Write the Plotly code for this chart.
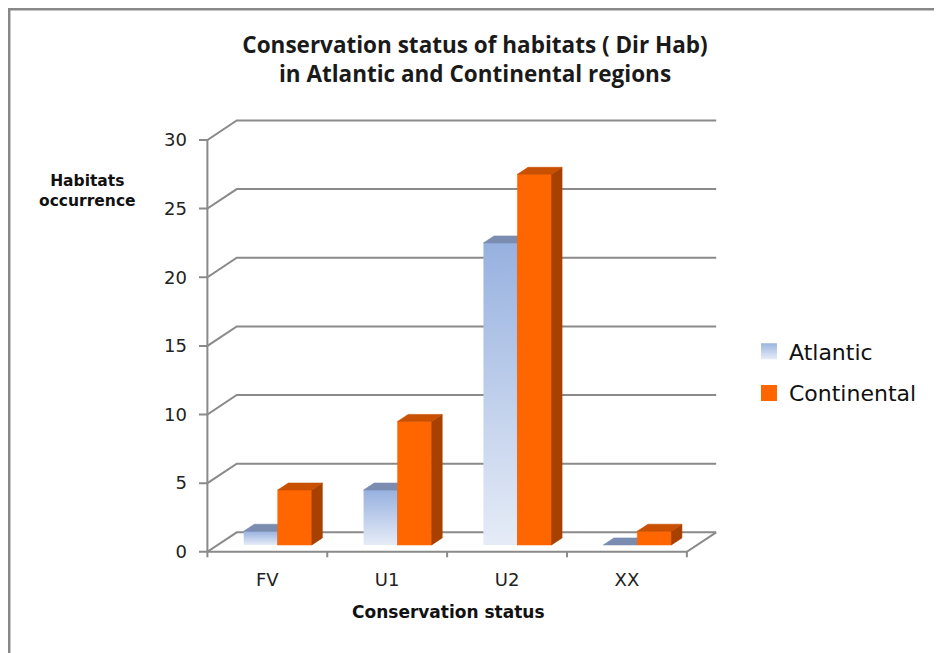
import plotly.graph_objects as go

categories = ["FV", "U1", "U2", "XX"]
atlantic = [1, 4, 22, 0]
continental = [4, 9, 27, 1]
y_ticks = [0, 5, 10, 15, 20, 25, 30]

# --- fake 3D geometry (axis units) ---------------------------------------
WALL_DX, WALL_DY = 0.245, 1.42     # front edge of floor -> back wall
FACE_DX, FACE_DY = 0.086, 0.50     # bar front face sits this far back
DEPTH_DX, DEPTH_DY = 0.088, 0.51   # bar depth
BAR_W = 0.284
GAP = 0.217
N = len(categories)

GRID = "#8a8a8a"
ATL = dict(front=["#e6ecf7", "#97b1df"], top="#7a8db0", side="#6a7fa6")
CON = dict(front="#ff6600", top="#c85000", side="#a84000")

fig = go.Figure()


def poly(xs, ys, **kw):
    fig.add_trace(go.Scatter(
        x=xs + [xs[0]], y=ys + [ys[0]], mode="lines", fill="toself",
        hoverinfo="skip", showlegend=False, **kw))


# walls / floor / axis lines
gx, gy = [], []
for v in y_ticks:
    gx += [-0.07, 0, WALL_DX, N + WALL_DX, None]
    gy += [v, v, v + WALL_DY, v + WALL_DY, None]
gx += [0, N, N + WALL_DX, None, 0, 0, None]
gy += [0, 0, WALL_DY, None, 0, y_ticks[-1], None]
for i in range(N + 1):
    gx += [i, i, None]
    gy += [0, -0.4, None]
fig.add_trace(go.Scatter(x=gx, y=gy, mode="lines", line=dict(color=GRID, width=2),
                         hoverinfo="skip", showlegend=False))

# bars
for i, (a, c) in enumerate(zip(atlantic, continental)):
    for j, (v, col) in enumerate(((a, ATL), (c, CON))):
        x0 = i + GAP + j * BAR_W + FACE_DX
        x1 = x0 + BAR_W
        yb, yt = FACE_DY, v + FACE_DY
        if v > 0:
            if j == 0:
                poly([x0, x1, x1, x0], [yb, yb, yt, yt], line=dict(width=0),
                     fillgradient=dict(type="vertical",
                                       colorscale=[[0, col["front"][0]], [1, col["front"][1]]]))
            else:
                poly([x0, x1, x1, x0], [yb, yb, yt, yt],
                     line=dict(width=0.6, color=col["front"]), fillcolor=col["front"])
            poly([x1, x1 + DEPTH_DX, x1 + DEPTH_DX, x1],
                 [yb, yb + DEPTH_DY, yt + DEPTH_DY, yt],
                 line=dict(width=0.6, color=col["side"]), fillcolor=col["side"])
        poly([x0, x1, x1 + DEPTH_DX, x0 + DEPTH_DX],
             [yt, yt, yt + DEPTH_DY, yt + DEPTH_DY],
             line=dict(width=0.6, color=col["top"]), fillcolor=col["top"])

# legend entries
fig.add_trace(go.Scatter(x=[None], y=[None], mode="markers", name="Atlantic",
                         legendgroup="atl",
                         marker=dict(symbol="square", size=16, color="#9bb4e0",
                                     gradient=dict(type="vertical", color="#e6ecf7"))))
fig.add_trace(go.Scatter(x=[None], y=[None], mode="markers", name="Continental",
                         legendgroup="con",
                         marker=dict(symbol="square", size=16, color="#ff6600")))

# page body has an 8px margin, so the figure is 8px smaller than the window
fig.update_layout(
    width=934, height=645,
    margin=dict(l=191, r=224, t=110, b=95, autoexpand=False),
    paper_bgcolor="white", plot_bgcolor="white",
    title=dict(text="Conservation status of habitats ( Dir Hab)<br>in Atlantic and Continental regions",
               x=0.5, xanchor="center", y=0.930, yanchor="middle",
               font=dict(family="Open Sans", size=22.5, color="#1a1a1a", weight="bold")),
    xaxis=dict(range=[-0.07, N + 0.26], tickvals=[i + 0.5 for i in range(N)],
               ticktext=categories, showgrid=False, zeroline=False, ticks="",
               ticklabelstandoff=9,
               tickfont=dict(family="DejaVu Sans", size=18, color="#222")),
    yaxis=dict(range=[-0.45, 31.6], tickvals=y_ticks, showgrid=False, zeroline=False,
               ticks="", ticklabelstandoff=11,
               tickfont=dict(family="DejaVu Sans", size=18, color="#222")),
    legend=dict(x=1.0597, xanchor="left", y=0.4216, yanchor="middle",
                tracegroupgap=10, font=dict(family="DejaVu Sans", size=22, color="#111"),
                bgcolor="rgba(0,0,0,0)"),
    showlegend=True,
    annotations=[
        dict(text="Conservation status", xref="paper", yref="paper", x=0.48, y=-0.1227,
             xanchor="center", yanchor="middle", showarrow=False,
             font=dict(family="DejaVu Sans", size=17, color="#111", weight="bold")),
        dict(text="Habitats<br>occurrence", xref="paper", yref="paper", x=-0.2139, y=0.833,
             xanchor="center", yanchor="middle", showarrow=False,
             font=dict(family="DejaVu Sans", size=15.5, color="#111", weight="bold")),
    ],
    shapes=[dict(type="rect", xref="paper", yref="paper", x0=-0.3657, x1=1.466,
                 y0=-0.2545, y1=1.2473, line=dict(color="#888", width=2.5), layer="below")],
)

fig.write_html("out.html")
